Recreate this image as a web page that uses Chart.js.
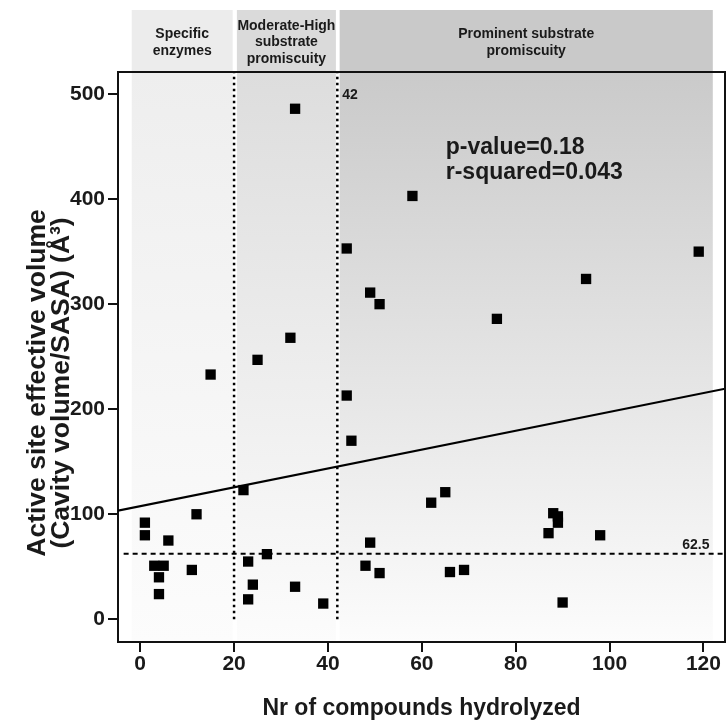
<!DOCTYPE html>
<html>
<head>
<meta charset="utf-8">
<title>Active site effective volume vs compounds hydrolyzed</title>
<script src="https://cdn.jsdelivr.net/npm/chart.js@4.4.1/dist/chart.umd.min.js"></script>
<style>
  html, body { margin: 0; padding: 0; background: #fff; }
  #wrap { width: 726px; height: 723px; }
</style>
</head>
<body>
<div id="wrap"><canvas id="chart" width="726" height="723"></canvas></div>
<script>
/* ================================================================
   DATA
================================================================ */
const compounds = [
  33, 44, 32, 25, 58, 119, 95, 49, 51, 76,
  15, 44, 45, 22, 12, 1, 1, 6, 27, 3,
  5, 23, 11, 4, 4, 24, 33, 23, 39, 65,
  62, 88, 89, 89, 87, 98, 49, 48, 51, 66,
  69, 90
];
const volumes = [
  486, 353, 268, 247, 403, 350, 324, 311, 300, 286,
  233, 213, 170, 123, 100, 92, 80, 75, 62, 51,
  51, 55, 47, 40, 24, 33, 31, 19, 15, 121,
  111, 101, 98, 92, 82, 80, 73, 51, 44, 45,
  47, 16
];

const xTicks = [0, 20, 40, 60, 80, 100, 120];
const yTicks = [0, 100, 200, 300, 400, 500];

// promiscuity classes (header bands + shaded columns)
const regionLabels = [
  ['Specific', 'enzymes'],
  ['Moderate-High', 'substrate', 'promiscuity'],
  ['Prominent substrate', 'promiscuity'],
];
const regionStart = [-1.8, 20.6, 42.5];
const regionEnd   = [19.7, 41.7, 122];

// cut-offs and fitted line
const cutoffX      = [20, 42];
const cutoffXLabel = '42';
const cutoffY      = 62.5;
const cutoffYLabel = '62.5';
const fitX = [-4.73, 124.6];
const fitY = [103.5, 219.5];

const statsLines = ['p-value=0.18', 'r-squared=0.043'];

const xTitle = 'Nr of compounds hydrolyzed';
const yTitle = ['Active site effective volume', '(Cavity volume/SASA) (Å³)'];

const X_RANGE = [-4.73, 124.6];
const Y_RANGE = [-21.6, 521];


/* ================================================================
   STYLE
================================================================ */
const FONT     = '"Liberation Sans", Arial, sans-serif';
const INK      = '#1a1a1a';
const HEADER_COLORS = ['#ececec', '#dadada', '#c9c9c9'];
const SHADE_TOP     = ['#eeeeee', '#dddddd', '#cacaca'];
const SHADE_BOTTOM  = '#fcfcfc';
const HEADER_TOP = 10;


/* ================================================================
   Plugin: header bands, shaded columns, frame and text notes
================================================================ */
const decorPlugin = {
  id: 'decor',
  beforeDraw(chart) {
    const { ctx, chartArea: a, scales: { x } } = chart;
    ctx.save();
    regionLabels.forEach((lines, i) => {
      const x0 = x.getPixelForValue(regionStart[i]);
      const x1 = x.getPixelForValue(regionEnd[i]);

      // header band
      ctx.fillStyle = HEADER_COLORS[i];
      ctx.fillRect(x0, HEADER_TOP, x1 - x0, a.top - HEADER_TOP);

      ctx.fillStyle = INK;
      ctx.font = 'bold 14px ' + FONT;
      ctx.textAlign = 'center';
      ctx.textBaseline = 'middle';
      const lh = 16.6;
      const mid = (HEADER_TOP + a.top) / 2 + 1.5;
      lines.forEach((t, j) => {
        ctx.fillText(t, (x0 + x1) / 2, mid + (j - (lines.length - 1) / 2) * lh);
      });

      // shaded column
      const g = ctx.createLinearGradient(0, a.top, 0, a.bottom);
      g.addColorStop(0, SHADE_TOP[i]);
      g.addColorStop(1, SHADE_BOTTOM);
      ctx.fillStyle = g;
      ctx.fillRect(x0, a.top, x1 - x0, a.bottom - a.top);
    });
    ctx.restore();
  },
  afterDraw(chart) {
    const { ctx, chartArea: a, scales: { x, y } } = chart;
    ctx.save();

    // top + right frame
    ctx.strokeStyle = '#111';
    ctx.lineWidth = 2;
    ctx.beginPath();
    ctx.moveTo(a.left, a.top);
    ctx.lineTo(chart.width, a.top);
    ctx.moveTo(a.right, a.top);
    ctx.lineTo(a.right, a.bottom);
    ctx.stroke();

    ctx.fillStyle = INK;
    ctx.textBaseline = 'middle';

    // cut-off labels
    ctx.font = 'bold 14px ' + FONT;
    ctx.textAlign = 'left';
    ctx.fillText(cutoffXLabel, x.getPixelForValue(cutoffX[1]) + 5, y.getPixelForValue(499));
    ctx.textAlign = 'right';
    ctx.fillText(cutoffYLabel, x.getPixelForValue(121.3), y.getPixelForValue(cutoffY + 8));

    // regression stats
    ctx.font = 'bold 23px ' + FONT;
    ctx.textAlign = 'left';
    statsLines.forEach((t, j) => {
      ctx.fillText(t, x.getPixelForValue(65.1), y.getPixelForValue(449) + j * 25);
    });

    // y-axis title (two rotated lines, centred a bit below the plot middle)
    ctx.font = 'bold 26.5px ' + FONT;
    ctx.textAlign = 'center';
    ctx.translate(38, y.getPixelForValue(225));
    ctx.rotate(-Math.PI / 2);
    yTitle.forEach((t, j) => ctx.fillText(t, 0, j * 24));

    ctx.restore();
  },
};


/* ================================================================
   Chart
================================================================ */
const points = compounds.map((c, i) => ({ x: c, y: volumes[i] }));

const axisCommon = {
  type: 'linear',
  grid: {
    display: true,
    drawOnChartArea: false,
    drawTicks: true,
    tickLength: 10,
    color: '#111',
    lineWidth: 2,
  },
  border: { display: true, color: '#111', width: 2 },
};

new Chart(document.getElementById('chart'), {
  type: 'scatter',
  data: {
    datasets: [
      {
        data: points,
        pointStyle: 'rect',
        pointRadius: 7.3,
        pointHoverRadius: 7.3,
        backgroundColor: '#000',
        borderWidth: 0,
      },
      {
        type: 'line',
        data: [{ x: fitX[0], y: fitY[0] }, { x: fitX[1], y: fitY[1] }],
        borderColor: '#000',
        borderWidth: 2.2,
        pointRadius: 0,
      },
      {
        type: 'line',
        data: [{ x: X_RANGE[0] + 1.2, y: cutoffY }, { x: X_RANGE[1], y: cutoffY }],
        borderColor: '#000',
        borderWidth: 2,
        borderDash: [5, 4],
        pointRadius: 0,
      },
      ...cutoffX.map(cx => ({
        type: 'line',
        data: [{ x: cx, y: 0 }, { x: cx, y: Y_RANGE[1] }],
        borderColor: '#000',
        borderWidth: 2.5,
        borderDash: [2.5, 3.5],
        pointRadius: 0,
      })),
    ],
  },
  options: {
    responsive: false,
    devicePixelRatio: 1,
    animation: false,
    layout: { autoPadding: false, padding: { top: 72, right: 1, left: 0, bottom: 0 } },
    plugins: { legend: { display: false }, tooltip: { enabled: false } },
    scales: {
      x: {
        ...axisCommon,
        position: 'bottom',
        min: X_RANGE[0],
        max: X_RANGE[1],
        afterBuildTicks: s => { s.ticks = xTicks.map(v => ({ value: v })); },
        afterFit: s => { s.height = 81; },
        ticks: { color: INK, padding: 0, font: { family: FONT, size: 21, weight: 'bold' } },
        title: {
          display: true,
          text: xTitle,
          color: INK,
          font: { family: FONT, size: 23, weight: 'bold' },
          padding: { top: 0, bottom: 1 },
        },
      },
      y: {
        ...axisCommon,
        position: 'left',
        min: Y_RANGE[0],
        max: Y_RANGE[1],
        afterBuildTicks: s => { s.ticks = yTicks.map(v => ({ value: v })); },
        afterFit: s => { s.width = 118; },
        ticks: { color: INK, padding: 3, font: { family: FONT, size: 21, weight: 'bold' } },
        title: { display: false },
      },
    },
  },
  plugins: [decorPlugin],
});
</script>
</body>
</html>
